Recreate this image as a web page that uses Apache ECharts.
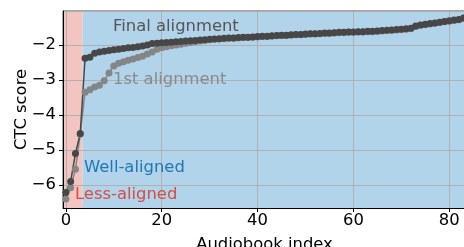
<!DOCTYPE html>
<html lang="en">
<head>
    <meta charset="UTF-8">
    <title>CTC score</title>
    <script src="https://cdn.jsdelivr.net/npm/echarts@6/dist/echarts.min.js"></script>
    <style>
        html, body {margin: 0; padding: 0; background: #fff;}
        #main {width: 464px; height: 247px;}
    </style>
</head>
<body>
<div id="main"></div>
<script>
    // audiobook index 0..83
    var finalAlign = [
        -6.22, -5.90, -5.10, -4.53, -2.38, -2.35, -2.24, -2.20, -2.18, -2.16,
        -2.14, -2.12, -2.10, -2.08, -2.07, -2.05, -2.03, -2.00, -1.96, -1.95,
        -1.94, -1.93, -1.92, -1.91, -1.90, -1.89, -1.88, -1.87, -1.86, -1.85,
        -1.84, -1.83, -1.82, -1.81, -1.80, -1.80, -1.79, -1.78, -1.78, -1.77,
        -1.76, -1.75, -1.75, -1.74, -1.73, -1.72, -1.72, -1.71, -1.70, -1.70,
        -1.69, -1.68, -1.68, -1.67, -1.66, -1.66, -1.65, -1.64, -1.64, -1.63,
        -1.63, -1.62, -1.62, -1.61, -1.61, -1.60, -1.59, -1.58, -1.57, -1.56,
        -1.55, -1.54, -1.52, -1.46, -1.43, -1.41, -1.39, -1.37, -1.35, -1.33,
        -1.31, -1.29, -1.27, -1.23
    ];
    var firstAlign = [
        -6.40, -6.08, -5.55, -4.55, -3.35, -3.28, -3.20, -3.15, -3.02, -2.80,
        -2.60, -2.52, -2.48, -2.44, -2.40, -2.36, -2.32, -2.26, -2.20, -2.12,
        -2.08, -2.05, -2.02, -2.00, -1.98, -1.95, -1.93, -1.91, -1.89, -1.87,
        -1.85, -1.84, -1.83, -1.82, -1.81, -1.81, -1.80, -1.79, -1.79, -1.78,
        -1.77, -1.76, -1.76, -1.75, -1.74, -1.73, -1.73, -1.72, -1.71, -1.71,
        -1.70, -1.69, -1.69, -1.68, -1.67, -1.67, -1.66, -1.65, -1.65, -1.64,
        -1.64, -1.63, -1.63, -1.62, -1.62, -1.61, -1.60, -1.59, -1.58, -1.57,
        -1.56, -1.55, -1.53, -1.47, -1.44, -1.42, -1.40, -1.38, -1.36, -1.34,
        -1.32, -1.30, -1.28, -1.24
    ];
    var xRange = [-0.6, 83.5];
    var yRange = [-6.66, -1.03];
    var lessAlignedEnd = 3.5;   // boundary between the two shaded bands

    function toPairs(arr) {
        var out = [];
        for (var i = 0; i < arr.length; i++) out.push([i, arr[i]]);
        return out;
    }

    var font = 'DejaVu Sans';
    var fs = 16.4;
    var txtFont = fs + 'px "DejaVu Sans"';
    var myChart = echarts.init(document.getElementById('main'), null, {renderer: 'canvas'});

    var option = {
        animation: false,
        textStyle: {fontFamily: font},
        grid: {
            left: 63, right: -2, top: 11, bottom: 39,
            show: true, borderColor: '#4a4a4a', borderWidth: 1,
            containLabel: false,
            outerBoundsMode: 'none'
        },
        xAxis: {
            type: 'value',
            min: xRange[0], max: xRange[1],
            splitNumber: 4,
            z: 1.5,
            name: 'Audiobook index',
            nameLocation: 'middle',
            nameGap: 29,
            nameMoveOverlap: false,
            nameTextStyle: {fontSize: fs, color: '#000', fontFamily: font},
            axisLine: {show: true, onZero: false, lineStyle: {color: '#000', width: 1}},
            axisTick: {show: true, length: 4, lineStyle: {color: '#000'}},
            axisLabel: {
                fontSize: fs, color: '#000', margin: 5, fontFamily: font,
                showMinLabel: false, showMaxLabel: false
            },
            splitLine: {show: true, lineStyle: {color: '#b0b0b0', width: 1}}
        },
        yAxis: {
            type: 'value',
            min: yRange[0], max: yRange[1],
            splitNumber: 5,
            z: 1.5,
            name: 'CTC score',
            nameLocation: 'middle',
            nameGap: 33,
            nameMoveOverlap: false,
            nameTextStyle: {fontSize: fs, color: '#000', fontFamily: font},
            axisLine: {show: true, onZero: false, lineStyle: {color: '#000', width: 1}},
            axisTick: {show: true, length: 4, lineStyle: {color: '#000'}},
            axisLabel: {
                fontSize: fs, color: '#000', margin: 7, fontFamily: font,
                showMinLabel: false, showMaxLabel: false,
                formatter: function (v) { return String(v).replace('-', '\u2212'); }
            },
            splitLine: {show: true, lineStyle: {color: '#b0b0b0', width: 1}}
        },
        graphic: [{
            type: 'text', left: 113, top: 19, z: 10,
            style: {text: 'Final alignment', fill: '#555555', font: txtFont}
        }, {
            type: 'text', left: 113, top: 72, z: 10,
            style: {text: '1st alignment', fill: '#8a8a8a', font: txtFont}
        }, {
            type: 'text', left: 84, top: 160, z: 10,
            style: {text: 'Well-aligned', fill: '#1f77b4', font: txtFont}
        }, {
            type: 'text', left: 75, top: 187, z: 10,
            style: {text: 'Less-aligned', fill: '#d94c43', font: txtFont}
        }],
        series: [{
            name: '1st alignment',
            type: 'line',
            data: toPairs(firstAlign),
            symbol: 'circle',
            symbolSize: 7,
            itemStyle: {color: '#858585'},
            lineStyle: {color: '#858585', width: 1.5},
            markArea: {
                silent: true,
                z: 1,
                data: [
                    [{xAxis: xRange[0], itemStyle: {color: '#f3c5c1'}}, {xAxis: lessAlignedEnd}],
                    [{xAxis: lessAlignedEnd, itemStyle: {color: '#b1d4ea'}}, {xAxis: xRange[1]}]
                ]
            }
        }, {
            name: 'Final alignment',
            type: 'line',
            data: toPairs(finalAlign),
            symbol: 'circle',
            symbolSize: 7,
            z: 3,
            itemStyle: {color: '#474747'},
            lineStyle: {color: '#474747', width: 1.5}
        }]
    };
    myChart.setOption(option);
</script>
</body>
</html>
